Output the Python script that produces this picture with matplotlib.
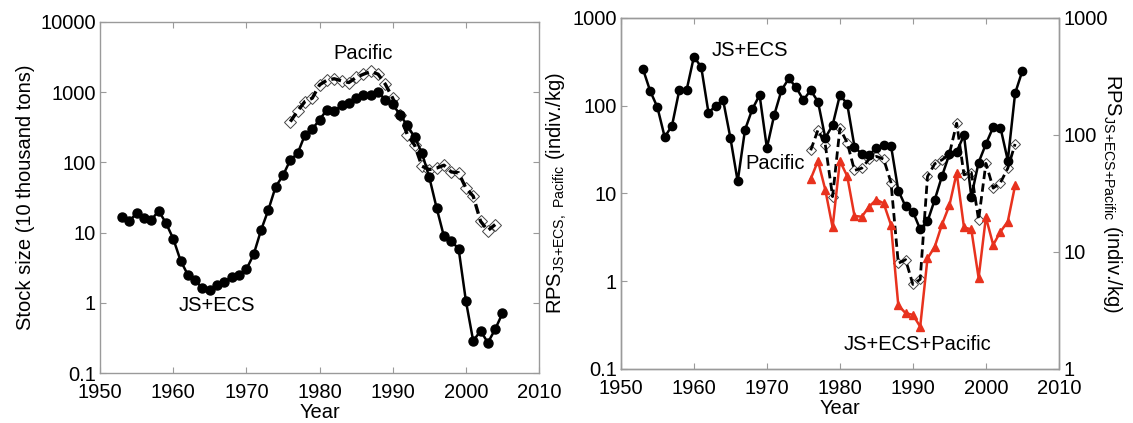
import matplotlib
matplotlib.use('Agg')
import matplotlib.pyplot as plt
from matplotlib.ticker import FixedLocator, NullLocator, FixedFormatter

plt.rcParams['font.family'] = ['Liberation Sans', 'DejaVu Sans']
plt.rcParams['mathtext.default'] = 'regular'

# stock size (10 thousand tons)
years_js = list(range(1953, 2006))
stock_js = [16.5, 14.5, 19, 16, 15, 20.5, 13.7, 8.2, 4.0, 2.5,
            2.1, 1.6, 1.5, 1.8, 2.0, 2.3, 2.5, 3.0, 4.9, 10.8,
            21, 45, 65, 108, 134, 246, 297, 405, 560, 530,
            650, 690, 820, 910, 900, 1000, 780, 670, 475, 335,
            227, 135, 61, 22.4, 8.8, 7.5, 5.9, 1.06, 0.285, 0.40,
            0.27, 0.42, 0.71]
years_pac = list(range(1976, 2005))
stock_pac = [380, 540, 735, 820, 1270, 1480, 1550, 1450, 1370, 1620,
             1800, 1970, 1800, 1290, 820, 475, 246, 175, 88, 79,
             83, 91, 73, 71, 43, 33, 14.5, 10.7, 13]

# RPS (indiv./kg)
rps_js = [265, 148, 96, 44, 59, 150, 150, 360, 277, 83,
          100, 116, 43, 13.7, 53, 91, 132, 33, 78, 150,
          204, 162, 116, 150, 111, 43, 60, 132, 105, 34,
          28, 27.5, 33, 36, 35, 10.8, 7.1, 6.2, 3.9, 4.8,
          8.5, 15.9, 28, 30, 46, 9.2, 22.5, 36.5, 57, 56,
          23.7, 138, 250]
rps_pac = [31, 53, 36, 9.2, 55, 38, 18.3, 19.4, 24.6, 26.4,
           24.6, 13.3, 1.6, 1.76, 0.92, 1.05, 15.6, 21.8, 24.2, 28.3,
           63, 16.3, 17.3, 5.0, 22, 11.5, 13.3, 19.4, 36.6]
rps_all = [42, 60, 34, 16.2, 60, 44.5, 20.3, 20, 24.4, 28,
           26, 17, 3.5, 3.0, 2.9, 2.3, 8.8, 11.1, 17.3, 25,
           47.5, 16.2, 15.6, 6.0, 19.8, 11.5, 14.9, 18.2, 37]

year_ticks = [1950, 1960, 1970, 1980, 1990, 2000, 2010]
red = '#e8321e'
frame = '#9a9a9a'
fs = 14.5


def style_axes(ax, yticks, ylabels):
    ax.set_yscale('log')
    ax.set_xlim(1950, 2010)
    ax.xaxis.set_major_locator(FixedLocator(year_ticks))
    ax.yaxis.set_major_locator(FixedLocator(yticks))
    ax.yaxis.set_major_formatter(FixedFormatter(ylabels))
    ax.yaxis.set_minor_locator(NullLocator())
    ax.tick_params(direction='in', length=4, width=0.8, color=frame,
                   labelsize=fs, pad=3)
    ax.tick_params(axis='x', pad=7)
    for sp in ax.spines.values():
        sp.set_color(frame)
        sp.set_linewidth(1.0)
        sp.set_linestyle((0, (1, 1)))


def dashed_diamonds(ax, x, y, ms, lw):
    # white diamonds underneath, dashed line drawn over them
    ax.plot(x, y, 'D', ms=ms, mfc='white', mec='#444444', mew=0.7, zorder=2)
    ax.plot(x, y, '--', color='black', lw=lw, dashes=(3, 1.6), zorder=2.5)


fig = plt.figure(figsize=(11.33, 4.23), dpi=100)

# left panel: stock size
ax1 = fig.add_axes([0.0883, 0.1182, 0.3875, 0.830])
dashed_diamonds(ax1, years_pac, stock_pac, 6, 2.4)
ax1.plot(years_js, stock_js, '-o', color='black', lw=1.8, ms=6.5, zorder=3)
style_axes(ax1, [0.1, 1, 10, 100, 1000, 10000],
           ['0.1', '1', '10', '100', '1000', '10000'])
ax1.set_ylim(0.1, 10000)
ax1.tick_params(top=True, right=True)
ax1.set_xlabel('Year', fontsize=fs, labelpad=1)
ax1.set_ylabel('Stock size (10 thousand tons)', fontsize=fs, labelpad=4)
ax1.text(1986, 3600, 'Pacific', fontsize=fs, ha='center', va='center')
ax1.text(1966, 0.9, 'JS+ECS', fontsize=fs, ha='center', va='center')

# right panel: RPS
ax2 = fig.add_axes([0.548, 0.1277, 0.3866, 0.830])
dashed_diamonds(ax2, years_pac, rps_pac, 5, 2.0)
ax2.plot(years_js, rps_js, '-o', color='black', lw=1.8, ms=6, zorder=3)
style_axes(ax2, [0.1, 1, 10, 100, 1000], ['0.1', '1', '10', '100', '1000'])
ax2.set_ylim(0.1, 1000)
ax2.tick_params(top=True)
ax2.set_xlabel('Year', fontsize=fs, labelpad=1)
ax2.set_ylabel(r'RPS$_{JS{+}ECS,\ Pacific}$ (indiv./kg)', fontsize=fs,
               labelpad=2)
ax2.text(1962.5, 420, 'JS+ECS', fontsize=fs, ha='left', va='center')
ax2.text(1967, 22, 'Pacific', fontsize=fs, ha='left', va='center')
ax2.text(1980.5, 0.19, 'JS+ECS+Pacific', fontsize=fs, ha='left', va='center')

ax3 = ax2.twinx()
ax3.plot(years_pac, rps_all, '-^', color=red, lw=1.8, ms=6, zorder=2)
style_axes(ax3, [1, 10, 100, 1000], ['1', '10', '100', '1000'])
ax3.set_ylim(1, 1000)
ax3.tick_params(left=False, labelleft=False, right=True, labelright=True)
ax3.set_ylabel(r'RPS$_{JS{+}ECS{+}Pacific}$ (indiv./kg)', fontsize=fs,
               rotation=-90, labelpad=12)

fig.savefig('out.png', dpi=100)
plt.close(fig)
